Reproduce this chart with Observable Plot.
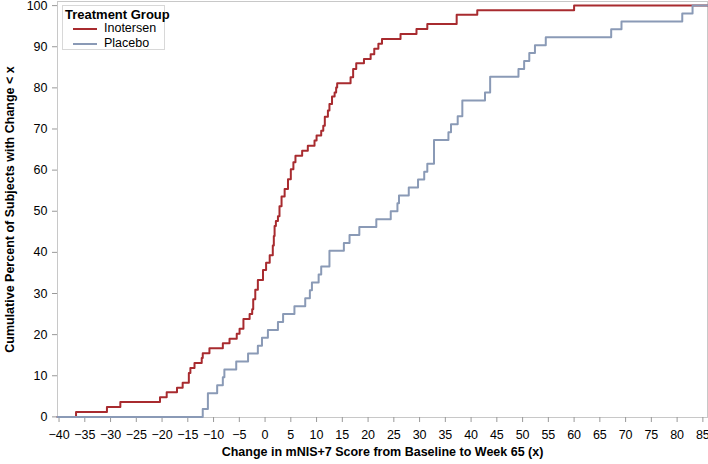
<!DOCTYPE html>
<html>
<head>
<meta charset="utf-8">
<script src="https://cdn.jsdelivr.net/npm/d3@7"></script>
<script src="https://cdn.jsdelivr.net/npm/@observablehq/plot@0.6"></script>
<style>
  html, body { margin: 0; padding: 0; background: #fff; }
  #wrap { position: relative; width: 708px; height: 464px; font-family: "Liberation Sans", Arial, sans-serif; }
  #wrap svg { overflow: visible; }
  #wrap svg [aria-label="x-axis label"] text,
  #wrap svg [aria-label="y-axis label"] text { font-weight: bold; font-size: 12.5px; }
  #legend { position: absolute; left: 62px; top: 5px; width: 103px; height: 45px; border: 1px solid #d8d8d8; background: #fff; box-sizing: border-box; font-size: 12.5px; color: #000; white-space: nowrap; }
  #legend .title { position: absolute; left: 2px; top: 1px; font-weight: bold; font-size: 13px; }
  #legend .item { position: absolute; left: 10px; height: 14px; line-height: 14px; }
  #legend .swatch { display: inline-block; width: 24px; height: 0; border-top: 2px solid; vertical-align: middle; margin-right: 7px; }
</style>
</head>
<body>
<div id="wrap"></div>
<script>
// Placebo: individual change values (n = 52)
const placeboChange = [-12.1, -11.1, -11.1, -9.3, -8.2, -7.9, -5.6, -3.3, -1.4, -0.6, 0.55, 2.5, 3.5, 5.7, 7.8, 8.7, 9.1, 10.4, 10.9, 12.5, 12.5, 15.3, 16.4, 18.3, 21.6, 24.4, 25.7, 26.0, 27.9, 29.7, 30.9, 31.5, 32.8, 32.8, 32.8, 35.6, 36.1, 37.4, 38.3, 38.3, 42.7, 43.7, 43.7, 49.2, 50.3, 51.3, 52.4, 54.5, 67.2, 69.2, 81.0, 83.0];

// Inotersen: step positions and cumulative percent after each step
const inoChange = [-36.7, -30.7, -28.1, -20.4, -19.1, -17.1, -16.0, -14.8, -14.5, -13.7, -12.3, -12.1, -10.8, -8.2, -6.9, -5.5, -4.95, -4.2, -3.0, -2.5, -2.3, -1.9, -1.4, -0.4, 0.2, 0.9, 1.5, 1.7, 1.85, 2.1, 2.5, 2.8, 3.2, 3.8, 4.45, 5.0, 5.5, 5.9, 7.2, 8.3, 9.6, 10.0, 10.9, 11.3, 11.6, 12.2, 12.5, 13.0, 13.5, 13.8, 14.0, 16.6, 17.1, 17.7, 19.2, 20.5, 21.2, 22.0, 22.7, 26.3, 29.4, 31.5, 37.2, 41.2, 60.0];
const inoPct    = [1.2, 2.4, 3.6, 4.8, 6.0, 7.1, 8.3, 10.7, 11.9, 13.1, 14.3, 15.5, 16.7, 17.9, 19.0, 20.2, 21.4, 23.8, 25.0, 26.2, 28.6, 30.9, 33.3, 35.7, 37.5, 39.3, 41.7, 44.0, 46.4, 47.6, 48.8, 51.2, 53.6, 55.4, 57.8, 60.2, 61.9, 63.5, 64.7, 65.9, 67.2, 68.4, 69.6, 70.8, 73.0, 74.5, 76.1, 77.9, 78.9, 80.1, 81.1, 82.6, 84.6, 86.0, 87.0, 88.2, 89.5, 90.7, 91.9, 93.1, 94.3, 95.5, 97.8, 98.9, 100];

const groups = ["Inotersen", "Placebo"];
const colors = ["#a82b2f", "#8a9ab6"];
const xTicks = d3.range(-40, 86, 5);
const yTicks = d3.range(0, 101, 10);
const xDomain = [-40.3, 85.9];
const yDomain = [-0.15, 101];

const inoData = [{x: xDomain[0], y: 0}]
  .concat(inoChange.map((x, i) => ({x, y: inoPct[i]})))
  .concat([{x: xDomain[1], y: 100}]);
const nP = placeboChange.length;
const plaData = [{x: xDomain[0], y: 0}]
  .concat(placeboChange.map((x, i) => ({x, y: (i + 1) / nP * 100})))
  .concat([{x: xDomain[1], y: 100}]);

const chart = Plot.plot({
  width: 708,
  height: 464,
  marginLeft: 57,
  marginRight: 1,
  marginTop: 1,
  marginBottom: 47,
  style: {fontFamily: "Liberation Sans, Arial, sans-serif", fontSize: "12.5px", color: "#000", background: "#fff"},
  x: {domain: xDomain},
  y: {domain: yDomain},
  marks: [
    Plot.frame({stroke: "#c8c8c8"}),
    Plot.axisX({ticks: xTicks, tickSize: 5, tickPadding: 8, stroke: "#999", label: "Change in mNIS+7 Score from Baseline to Week 65 (x)", labelAnchor: "center", labelOffset: 38, labelArrow: false}),
    Plot.axisY({ticks: yTicks, tickSize: 5, tickPadding: 5, stroke: "#999", label: "Cumulative Percent of Subjects with Change < x", labelAnchor: "center", labelOffset: 52, labelArrow: false}),
    Plot.line(inoData, {x: "x", y: "y", curve: "step-after", stroke: colors[0], strokeWidth: 2}),
    Plot.line(plaData, {x: "x", y: "y", curve: "step-after", stroke: colors[1], strokeWidth: 2})
  ]
});
const wrap = document.getElementById("wrap");
wrap.appendChild(chart);

const legend = document.createElement("div");
legend.id = "legend";
legend.innerHTML = `<div class="title">Treatment Group</div>` +
  groups.map((g, i) => `<div class="item" style="top:${15 + i * 15}px"><span class="swatch" style="border-color:${colors[i]}"></span>${g}</div>`).join("");
wrap.appendChild(legend);
</script>
</body>
</html>
